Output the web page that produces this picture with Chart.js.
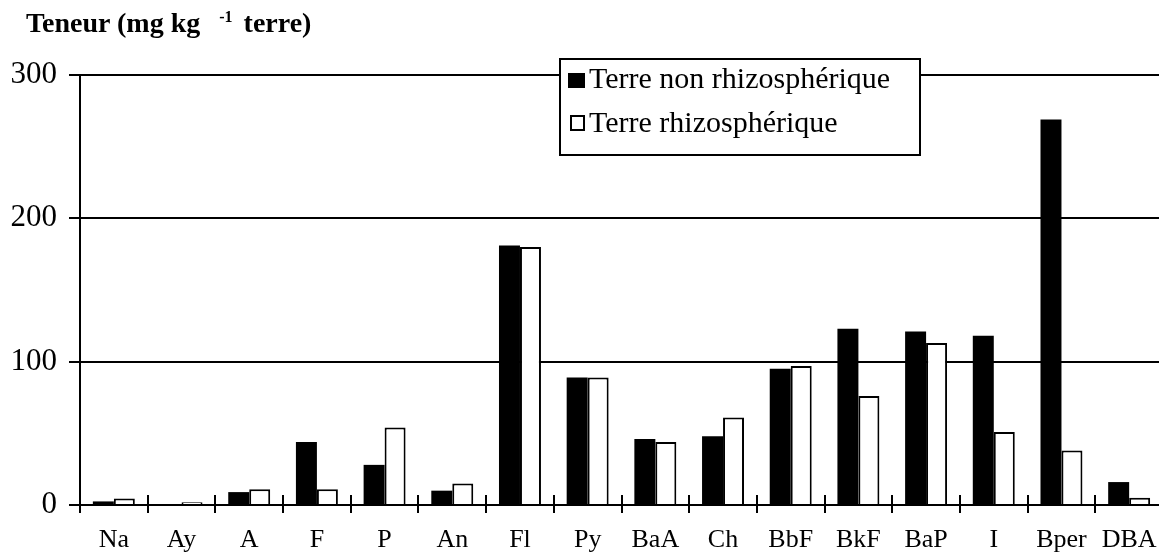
<!DOCTYPE html>
<html lang="fr">
<head>
<meta charset="UTF-8">
<title>Teneur en HAP</title>
<script src="https://cdn.jsdelivr.net/npm/chart.js"></script>
<style>
    body { margin: 0; background: #fff; overflow: hidden; }
    .wrap { position: relative; width: 1163px; height: 553px; }
    .titre {
        position: absolute; left: 26px; top: 7px;
        font-family: 'Liberation Serif', serif; font-weight: bold; font-size: 28px;
        color: #000; white-space: nowrap;
    }
    .titre sup { font-size: 16px; margin-left: 12px; margin-right: 4px; }
</style>
</head>
<body>
<div class="wrap">
    <div class="titre">Teneur (mg kg <sup>-1</sup> terre)</div>
    <canvas id="hap"></canvas>
</div>
<script>
// HAP : teneurs par composé (mg/kg de terre)
const categories = ['Na', 'Ay', 'A', 'F', 'P', 'An', 'Fl', 'Py', 'BaA', 'Ch', 'BbF', 'BkF', 'BaP', 'I', 'Bper', 'DBA'];
const nonRhizo = [2.5, 0, 9, 44, 28, 10, 181, 89, 46, 48, 95, 123, 121, 118, 269, 16];
const rhizo = [4.5, 2, 11, 11, 54, 15, 180, 89, 44, 61, 97, 76, 113, 51, 38, 5];
const yTicks = [0, 100, 200, 300];

const serif = "'Liberation Serif', 'Times New Roman', serif";

// petits traits verticaux qui coupent l'axe des x entre chaque composé
const traitsX = {
    id: 'traitsX',
    afterDatasetsDraw(chart) {
        const xs = chart.scales.x;
        const y0 = chart.scales.y.getPixelForValue(0);
        const ctx = chart.ctx;
        const pas = xs.width / categories.length;
        ctx.save();
        ctx.strokeStyle = '#000';
        ctx.lineWidth = 2;
        for (let i = 0; i <= categories.length; i++) {
            const x = Math.round(xs.left + i * pas);
            ctx.beginPath();
            ctx.moveTo(x, y0 - 10);
            ctx.lineTo(x, y0 + 8);
            ctx.stroke();
        }
        ctx.restore();
    }
};

// légende encadrée posée sur la ligne des 300
const legendeBoite = {
    id: 'legendeBoite',
    afterDraw(chart) {
        const ctx = chart.ctx;
        const x = 560, y = 59, w = 360, h = 96;
        ctx.save();
        ctx.fillStyle = '#fff';
        ctx.fillRect(x, y, w, h);
        ctx.strokeStyle = '#000';
        ctx.lineWidth = 2;
        ctx.strokeRect(x, y, w, h);
        ctx.font = '30px ' + serif;
        ctx.textBaseline = 'alphabetic';
        chart.data.datasets.forEach((ds, i) => {
            const base = y + 29 + i * 44;
            if (ds.backgroundColor === '#000') {
                ctx.fillStyle = '#000';
                ctx.fillRect(x + 8, base - 15, 17, 15);
            } else {
                ctx.strokeRect(x + 11, base - 16, 13, 14);
            }
            ctx.fillStyle = '#000';
            ctx.fillText(ds.label, x + 29, base);
        });
        ctx.restore();
    }
};

new Chart(document.getElementById('hap'), {
    type: 'bar',
    data: {
        labels: categories,
        datasets: [
            {
                label: 'Terre non rhizosphérique',
                data: nonRhizo,
                backgroundColor: '#000',
                borderWidth: 0
            },
            {
                label: 'Terre rhizosphérique',
                data: rhizo,
                backgroundColor: '#fff',
                borderColor: '#000',
                borderWidth: 2,
                borderSkipped: 'bottom'
            }
        ]
    },
    options: {
        responsive: true,
        maintainAspectRatio: false,
        animation: false,
        layout: { padding: { top: 75, right: 0, left: 0, bottom: 0 } },
        datasets: { bar: { categoryPercentage: 0.62, barPercentage: 1 } },
        scales: {
            x: {
                grid: { display: true, drawOnChartArea: false, drawTicks: false },
                border: { display: true, color: '#000', width: 2 },
                ticks: {
                    color: '#000',
                    padding: 20,
                    font: { family: serif, size: 26 }
                },
                afterFit(s) {
                    s.height = 48;
                    s.paddingLeft = 0;
                    s.paddingRight = 0;
                }
            },
            y: {
                min: 0,
                max: 300,
                afterBuildTicks(s) { s.ticks = yTicks.map(v => ({ value: v })); },
                grid: { color: '#000', lineWidth: 2, tickLength: 11 },
                border: { display: true, color: '#000', width: 2 },
                ticks: {
                    color: '#000',
                    padding: 12,
                    font: { family: serif, size: 31 }
                },
                afterFit(s) { s.width = 80; }
            }
        },
        plugins: {
            legend: { display: false },
            tooltip: { enabled: false }
        }
    },
    plugins: [traitsX, legendeBoite]
});
</script>
</body>
</html>
